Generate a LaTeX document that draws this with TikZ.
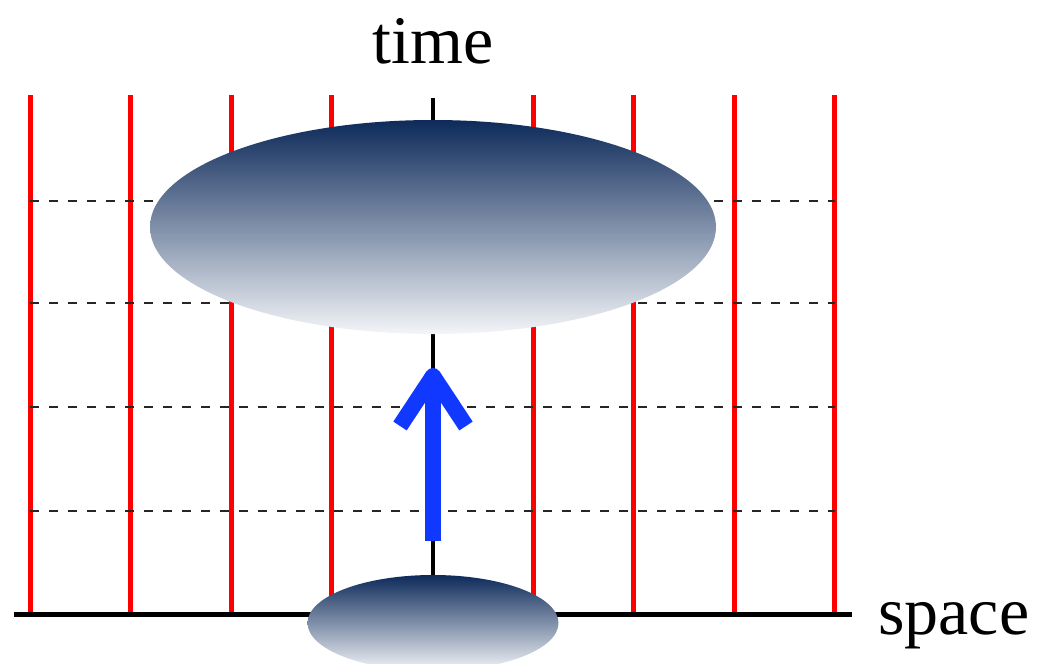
\documentclass[tikz,border=0pt]{standalone}
\usepackage{fontspec}
\setmainfont{Liberation Serif}
\usepackage{tikz}
\usetikzlibrary{shapes.geometric}
\definecolor{navy}{RGB}{13,42,90}
\definecolor{paleblue}{RGB}{243,245,248}
\definecolor{arrowblue}{RGB}{16,56,255}

\begin{document}
\begin{tikzpicture}[x=1pt,y=-1pt,
    worldline/.style={red,line width=5pt},
    slice/.style={black!85,line width=1.4pt,dash pattern=on 9pt off 10pt},
    axis/.style={black,line width=5pt},
    blob/.style={ellipse,inner sep=0pt,top color=navy,bottom color=paleblue,draw=none},
    evolve/.style={arrowblue,line width=16pt,line join=round},
    lbl/.style={font=\fontsize{68}{80}\selectfont}]
    \useasboundingbox (0,0) rectangle (1039,664);

    % world lines and time slices
    \foreach \i in {0,1,2,3,5,6,7,8}
      \draw[worldline] (30+100.6*\i,95) -- (30+100.6*\i,614);
    \foreach \y in {201,303,407,511}
      \draw[slice] (30,\y) -- (835,\y);

    % axes
    \coordinate (t0) at (433,98);
    \coordinate (o) at (433,614);
    \coordinate (s0) at (14,614);
    \coordinate (s1) at (852,614);
    \draw[axis,line width=4pt] (o) -- (t0);
    \draw[axis] (s0) -- (s1);
    \node[lbl,anchor=base] (time) at (433,63) {time};
    \node[lbl,anchor=base west,inner sep=0pt] (space) at (878,634) {space};

    % regions
    \node[blob,minimum width=566pt,minimum height=214pt] (late) at (433,227) {};
    \node[blob,minimum width=251pt,minimum height=96pt] (early) at (433,623) {};

    % evolution arrow
    \coordinate (tail) at (433,541);
    \coordinate (tip) at (433,376);
    \coordinate (barbl) at (400,426);
    \coordinate (barbr) at (466,426);
    \draw[evolve] (tail) -- (tip);
    \draw[evolve] (barbl) -- (tip) -- (barbr);
\end{tikzpicture}
\end{document}
